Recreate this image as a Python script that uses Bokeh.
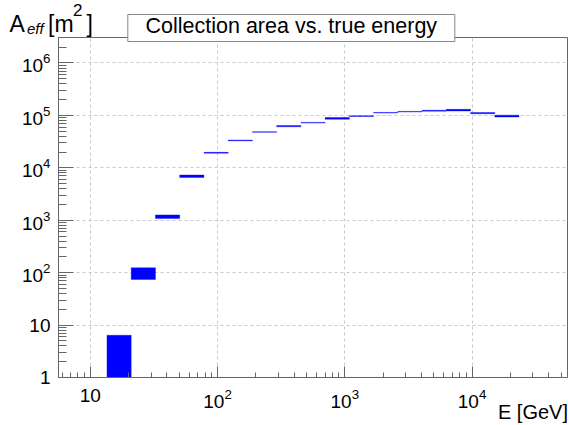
from bokeh.plotting import figure
from bokeh.models import Range1d, FixedTicker, ColumnDataSource, LogTickFormatter
from bokeh.core.properties import value
from bokeh.embed import file_html
from bokeh.resources import INLINE

# ---- data ----
bin_low = [13.52, 20.96, 32.50, 50.40, 78.15, 121.2, 187.9, 291.3, 451.7,
           700.4, 1086.0, 1684.0, 2610.0, 4048.0, 6277.0, 9730.0, 15090.0]
bin_high = [20.96, 32.50, 50.40, 78.15, 121.2, 187.9, 291.3, 451.7, 700.4,
            1086.0, 1684.0, 2610.0, 4048.0, 6277.0, 9730.0, 15090.0, 23390.0]
area = [3.3, 99, 1170, 6900, 19400, 33300, 48300, 62400, 72500,
        87700, 97000, 112500, 117800, 123000, 126000, 110600, 97000]
area_err = [3.1, 25, 95, 400, 350, 600, 700, 1800, 1000,
            3500, 1800, 1500, 1500, 2500, 4500, 3000, 4000]

x_ticks = [10, 100, 1000, 10000]
y_ticks = [1, 10, 100, 1000, 10000, 100000, 1000000]
# labels shown: 10, 10^2, 10^3, 10^4  /  1, 10, 10^2 ... 10^6 (plain below 10^2)

title_text = "Collection area vs. true energy"
x_title = "E [GeV]"

FONT = "Liberation Sans"
AXC = "#666666"
W, H = 569, 425
FL, FR, FT, FB = 58, 567, 37, 377          # frame edges in canvas pixels
XLO, XHI = 0.75, 4.75                       # log10 x range
YLO, YHI = 0.0, 6.486                       # log10 y range

src = ColumnDataSource(dict(
    left=bin_low, right=bin_high,
    bottom=[v - e for v, e in zip(area, area_err)],
    top=[v + e for v, e in zip(area, area_err)],
))

p = figure(width=W, height=H, x_axis_type="log", y_axis_type="log",
           x_range=Range1d(10 ** XLO, 10 ** XHI),
           y_range=Range1d(10 ** YLO, 10 ** YHI),
           output_backend="svg", toolbar_location=None,
           min_border_left=FL, min_border_right=W - FR,
           min_border_top=FT, min_border_bottom=H - FB)
p.title.visible = False
p.background_fill_color = "white"
p.border_fill_color = "white"
p.outline_line_color = AXC
p.outline_line_width = 1

p.quad(left="left", right="right", bottom="bottom", top="top", source=src,
       fill_color="#0000ff", line_color="#0000ff", line_alpha=0.35, line_width=1)

x_minor = [k * 10 ** d for d in range(0, 5) for k in range(2, 10)]
y_minor = [k * 10 ** d for d in range(0, 7) for k in range(2, 10)]
p.xaxis.ticker = FixedTicker(ticks=x_ticks, minor_ticks=x_minor)
p.yaxis.ticker = FixedTicker(ticks=y_ticks, minor_ticks=y_minor)
p.xaxis.formatter = LogTickFormatter(min_exponent=2)
p.yaxis.formatter = LogTickFormatter(min_exponent=2)

for ax in (p.xaxis, p.yaxis):
    ax.axis_line_color = AXC
    ax.major_tick_line_color = AXC
    ax.minor_tick_line_color = AXC
    ax.major_tick_out = 0
    ax.minor_tick_out = 0
    ax.major_label_text_font = FONT
    ax.major_label_text_font_size = "19px"
    ax.major_label_text_color = "black"
p.xaxis.major_tick_in = 11
p.xaxis.minor_tick_in = 5
p.yaxis.major_tick_in = 15
p.yaxis.minor_tick_in = 8
p.xaxis.major_label_standoff = 11
p.yaxis.major_label_standoff = 8

for g in (p.xgrid, p.ygrid):
    g.grid_line_color = "#c8c8c8"
    g.grid_line_dash = "3 3"
    g.grid_line_width = 1
p.xgrid.ticker = FixedTicker(ticks=x_ticks)
p.ygrid.ticker = FixedTicker(ticks=y_ticks)


def cx2data(cx):
    return 10 ** (XLO + (cx - FL) * (XHI - XLO) / (FR - FL))


def cy2data(cy):
    return 10 ** (YLO + (FB - cy) * (YHI - YLO) / (FB - FT))


def txt(text, cx, base, size, style="normal", align="left"):
    # base = wanted baseline (canvas px); glyph text renders a bit low, compensate
    cy = base - 0.3 * size
    r = p.text(x=[cx2data(cx)], y=[cy2data(cy)], text=[text],
               text_font=value(FONT), text_font_size=f"{size}px",
               text_font_style=style, text_align=align,
               text_baseline="alphabetic", text_color="black")
    r.level = "overlay"
    return r


# ---- title box (drawn over the frame edge) ----
box = p.quad(left=[cx2data(127.3)], right=[cx2data(454.3)],
             bottom=[cy2data(41)], top=[cy2data(14)],
             fill_color="white", line_color="#888888", line_width=1)
box.level = "overlay"
txt(title_text, 290.8, 31.7, 21.5, align="center")

# y-axis title A_eff [m^2]
txt("A", 9, 30, 23)
txt("eff", 26.5, 32.7, 15, style="italic")
txt("[m", 47.5, 30, 23)
txt("2", 72.5, 14.5, 17)
txt("]", 86, 30, 23)

# x-axis title
txt(x_title, 567.5, 417, 20, align="right")

open("out.html", "w").write(file_html(p, INLINE))
